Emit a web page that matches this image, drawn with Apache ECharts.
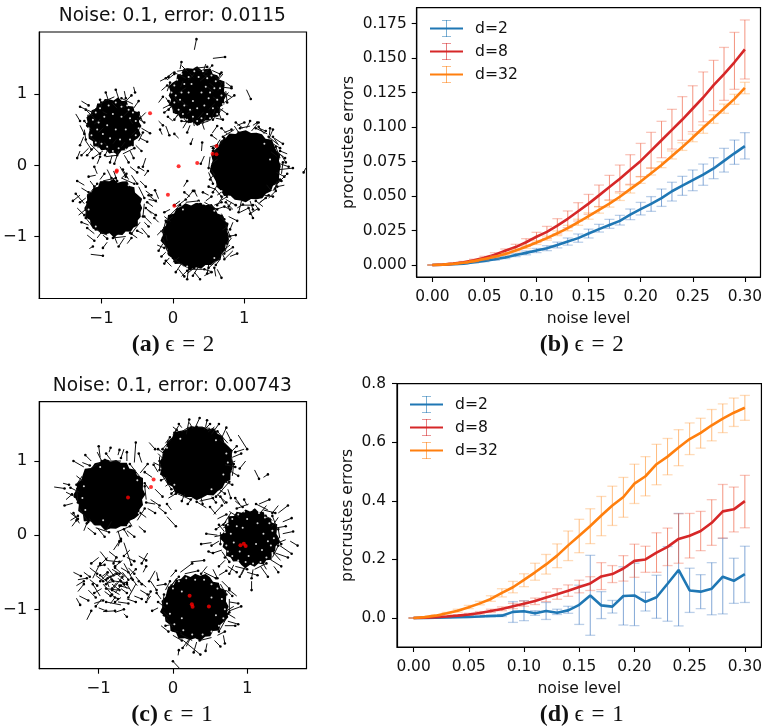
<!DOCTYPE html>
<html><head><meta charset="utf-8">
<style>html,body{margin:0;padding:0;background:#fff}#c{width:765px;height:727px;filter:blur(.35px)}</style>
<script src="https://cdn.jsdelivr.net/npm/echarts@6/dist/echarts.min.js"></script>
</head><body><div id="c"></div>
<script>
// ---------- values ----------
const noise=[0,.01,.02,.03,.04,.05,.06,.07,.08,.09,.1,.11,.12,.13,.14,.15,.16,.17,.18,.19,.2,.21,.22,.23,.24,.25,.26,.27,.28,.29,.3];
const names=['d=2','d=8','d=32'];
const xTicks=[0,.05,.1,.15,.2,.25,.3];
const yTicksB=[0,.025,.05,.075,.1,.125,.15,.175];
const yTicksD=[0,.2,.4,.6,.8];
const scatterTicks=[-1,0,1];

// panel b
const b2=[0,.0002,.0005,.001,.002,.003,.0042,.0055,.0072,.0088,.0105,.0122,.0145,.017,.0195,.0228,.026,.029,.032,.0365,.0405,.0443,.0485,.0535,.0575,.0615,.0655,.07,.0755,.081,.0862];
const b2Hi=[0,.0003,.0007,.0013,.0025,.0036,.005,.0064,.0083,.0102,.012,.014,.0166,.0196,.0225,.026,.0295,.0331,.036,.0406,.0454,.0496,.0551,.06,.0643,.0689,.0732,.0778,.0846,.0906,.096];
const b2Lo=[0,.0001,.0003,.0007,.0015,.0024,.0034,.0046,.0061,.0074,.009,.0104,.0124,.0144,.0165,.0196,.0239,.0266,.029,.0329,.0363,.0389,.0425,.0464,.0505,.0539,.0578,.0626,.0674,.073,.0769];
const b8=[0,.0003,.001,.002,.0034,.0052,.0075,.0103,.013,.0165,.0205,.024,.0285,.0335,.039,.0445,.0505,.0565,.0625,.069,.0755,.083,.0905,.098,.1055,.1135,.1215,.1305,.1385,.147,.1564];
const b8Hi=[0,.0005,.0013,.0026,.0042,.0063,.0089,.0116,.015,.0191,.0237,.028,.0336,.0392,.0452,.0512,.058,.065,.0725,.08,.0882,.0962,.1042,.1129,.1221,.13,.14,.1484,.1578,.1687,.1777];
const b8Lo=[0,.0002,.0007,.0014,.0026,.004,.0059,.008,.0106,.0135,.0164,.0193,.0225,.0271,.0319,.0367,.0423,.0471,.0532,.0585,.0641,.0701,.0778,.0841,.0904,.0967,.1039,.1119,.1194,.1274,.1349];
const b32=[0,.0003,.0008,.0016,.0028,.0043,.006,.008,.0105,.0132,.0163,.0195,.023,.0268,.031,.0355,.04,.0445,.0495,.055,.0605,.0665,.0725,.079,.0855,.0925,.0995,.1065,.1135,.1205,.1284];
const b32Hi=[0,.0004,.001,.002,.0033,.0049,.0068,.0089,.0115,.0144,.0177,.021,.0247,.0288,.0332,.0378,.0424,.047,.0522,.058,.0641,.0706,.0749,.0827,.0887,.095,.1015,.109,.1167,.1238,.1325];
const b32Lo=[0,.0002,.0006,.0012,.0023,.0037,.0052,.0071,.0095,.012,.0149,.018,.0213,.0248,.0288,.0332,.0376,.042,.0468,.0522,.0592,.0653,.0706,.0769,.0831,.0894,.0955,.1027,.11,.1165,.1242];

// panel d
const d2=[0,.0005,.001,.002,.003,.004,.005,.007,.008,.021,.023,.016,.024,.018,.026,.045,.077,.043,.039,.075,.077,.055,.071,.117,.164,.094,.09,.1,.141,.127,.15];
const d2Hi=[0,.001,.002,.003,.004,.006,.007,.01,.012,.056,.059,.025,.053,.03,.04,.112,.214,.09,.06,.175,.187,.088,.146,.244,.357,.17,.148,.189,.272,.204,.245];
const d2Lo=[0,0,0,.001,.002,.002,.003,.004,.005,-.015,-.009,.009,-.005,.012,.016,-.022,-.059,-.002,.017,-.024,-.026,.024,-.001,-.011,-.027,.019,.032,.011,.014,.05,.053];
const d8=[0,.001,.003,.005,.008,.012,.017,.024,.031,.04,.049,.058,.07,.081,.093,.106,.118,.142,.15,.169,.195,.2,.223,.243,.27,.281,.297,.325,.364,.371,.399];
const d8Hi=[0,.002,.004,.007,.011,.016,.022,.03,.038,.05,.058,.068,.088,.1,.113,.129,.141,.189,.179,.213,.252,.245,.291,.307,.356,.357,.364,.404,.456,.447,.487];
const d8Lo=[0,.001,.002,.004,.006,.009,.013,.019,.025,.032,.04,.046,.056,.064,.074,.086,.094,.097,.121,.126,.139,.156,.156,.179,.187,.205,.23,.248,.273,.294,.308];
const d32=[0,.003,.008,.016,.025,.037,.05,.065,.086,.105,.13,.156,.183,.213,.248,.281,.314,.35,.384,.413,.459,.484,.525,.551,.582,.611,.632,.658,.681,.701,.718];
const d32Hi=[0,.004,.01,.019,.03,.043,.057,.076,.1,.125,.151,.187,.217,.253,.297,.337,.373,.415,.45,.48,.525,.551,.593,.613,.643,.666,.682,.712,.731,.751,.76];
const d32Lo=[0,.002,.006,.013,.02,.032,.045,.057,.072,.086,.107,.129,.15,.172,.196,.223,.254,.281,.316,.344,.391,.417,.455,.489,.52,.558,.58,.605,.633,.654,.675];

// panel a: dense cluster bodies [x, y] with their outline radii, arrows [fromX, fromY, toX, toY], gaps inside bodies, red points
const centersA=[[1.02,-.01],[.32,-.98],[-.83,-.6],[-.83,.55],[.34,.98]];
const outlinesA=[
[.49,.47,.51,.48,.49,.52,.47,.5,.49,.47,.5,.49,.47,.51,.48,.5,.47,.49,.51,.47,.49,.51,.48,.47,.5,.49,.52,.47,.5,.49,.51,.47,.49,.51,.48,.5,.47,.52,.49,.48],
[.46,.44,.48,.45,.47,.43,.46,.49,.44,.46,.45,.42,.47,.45,.46,.43,.48,.45,.44,.48,.46,.5,.46,.44,.48,.46,.5,.45,.47,.49,.45,.48,.44,.47,.46,.49,.45,.46,.44,.47],
[.4,.38,.42,.39,.37,.41,.38,.42,.39,.36,.41,.38,.4,.42,.37,.4,.38,.42,.39,.38,.41,.39,.42,.37,.4,.41,.38,.4,.39,.36,.41,.38,.4,.37,.41,.39,.42,.38,.4,.38],
[.39,.36,.38,.41,.36,.39,.35,.4,.37,.41,.36,.38,.4,.36,.39,.35,.38,.36,.4,.37,.39,.34,.37,.39,.36,.4,.36,.38,.35,.39,.37,.41,.36,.38,.36,.4,.35,.38,.4,.36],
[.41,.38,.4,.43,.38,.4,.37,.42,.39,.36,.41,.38,.4,.42,.38,.4,.36,.39,.42,.38,.4,.37,.41,.39,.42,.38,.4,.36,.41,.38,.43,.39,.37,.4,.38,.42,.39,.36,.4,.38]];
const gapsA=[
[.02,1.12],[.06,1.2],[.12,1.28],[.16,1.14],[.22,1.24],[.3,1.32],[.36,1.24],[.42,1.32],[.48,1.22],[.54,1.26],[.6,1.18],[.66,1.08],[.58,1.08],[.68,.98],[.62,.92],[.7,.86],[.56,.8],[.62,.72],[.48,.72],[.52,.66],[.4,.66],[.34,.62],[.28,.68],[.2,.64],[.14,.72],[.08,.78],[.02,.88],[.04,.98],[-.02,1.02],[.12,1.02],[.16,.84],[.24,.78],[.44,.84],[.5,.94],[.46,1.1],[.26,1.14],[.1,.92],[.28,.9],[.4,1.02],[.34,.8],[.22,1.02],[.52,1.02],
[-1.12,.64],[-1.08,.74],[-1.02,.8],[-.96,.68],[-.9,.84],[-.8,.88],[-.72,.82],[-.64,.84],[-.56,.74],[-.52,.62],[-.6,.66],[-.48,.52],[-.52,.42],[-.6,.36],[-.58,.26],[-.66,.22],[-.76,.24],[-.84,.2],[-.92,.26],[-1,.3],[-1.08,.32],[-1.14,.42],[-1.18,.52],[-1.06,.5],[-.98,.44],[-.92,.56],[-.84,.72],[-.72,.68],[-.66,.5],[-.74,.36],[-.88,.38],[-.8,.5],[-1.04,.6],[-.62,.78],
[.36,-.52],[.42,-.54],[-.62,-.28],[-.5,-.3],[-.46,-.42],[.58,-.64],[1.36,.08],[.68,-.36],[.78,-.44],[1.28,.3],[-.42,-.78],[.14,-.62],[.2,-1.42],[.58,-1.3],[-1.18,-.62],[-1.08,-.86]];
const arrowsA=[
[.3,1.62,.33,1.77],[.56,1.5,.73,1.52],[1.03,1.06,1.09,.93],[.0,1.3,-.1,1.22],[.1,1.35,.12,1.45],[.18,1.22,.02,1.3],[.3,1.36,.48,1.38],[.42,1.27,.55,1.4],[.55,1.33,.66,1.28],[.62,1.2,.68,1.3],[.66,1.1,.82,1.08],[.7,1.18,.62,1.03],[.78,1.02,.7,.95],[.72,.88,.86,.98],[.62,.82,.76,.72],[.55,.68,.6,.8],[.42,.58,.46,.7],[.3,.55,.27,.68],[.18,.62,.12,.72],[.05,.68,.14,.78],[-.02,.82,-.12,.74],[-.1,.95,-.04,.85],[-.16,1.05,-.08,1.12],[-.18,1.18,-.06,1.24],[-.02,1.1,.06,1.18],
[.08,1.02,.2,1.1],[.12,.9,.22,.82],[.2,.72,.3,.8],[.35,.66,.44,.76],[.5,.78,.6,.88],[.56,.96,.66,.9],[.6,1.08,.5,1.16],[.5,1.22,.4,1.3],[.3,1.28,.2,1.18],[.14,1.18,.1,1.08],[.02,.96,.1,.86],[.0,.86,-.06,.78],[.48,1.1,.58,1.02],[.66,.78,.58,.7],[.1,.76,.02,.64],[.38,1.18,.5,1.28],[.22,1.3,.3,1.22],[.6,.66,.7,.64],[-.2,.88,-.14,.96],[.24,.56,.2,.46],[.44,.5,.4,.62],[.74,1.16,.82,1.1],
[-.08,1.2,.02,1.28],[.06,1.32,.2,1.34],[.34,1.34,.5,1.3],[.58,1.26,.7,1.12],[.74,1.04,.76,.88],[.7,.8,.56,.64],[.5,.62,.36,.58],[.26,.6,.12,.62],[.04,.72,-.06,.9],[-.08,1.04,-.04,1.16],[.12,1.4,.22,1.3],[.46,1.42,.42,1.3],[.7,1.28,.6,1.16],[.82,.96,.7,1.02],[.68,.64,.64,.74],[.14,.52,.2,.62],[-.14,.8,-.02,.86],
[-.1,.55,-.05,.42],[.08,.38,.02,.44],[.28,.38,.25,.3],[.4,.2,.41,.32],[.62,.36,.54,.42],[.44,.13,.39,.02],[.15,-.3,.2,-.22],[-.38,.1,-.42,-.02],[-.4,-.08,-.48,-.03],[-.2,-.47,-.25,-.35],[.55,.45,.62,.55],[-.2,.62,-.14,.56],[.0,.62,-.07,.68],[-.15,.43,-.18,.5],
[1.03,.52,1.08,.62],[.86,.55,.92,.46],[.76,.44,.68,.52],[1.2,.52,1.3,.48],[1.34,.36,1.4,.5],[1.4,.3,1.5,.24],[1.46,.12,1.36,.2],[1.5,.02,1.62,-.02],[1.45,-.1,1.56,-.16],[1.42,-.26,1.52,-.22],[1.38,-.36,1.3,-.26],[1.22,-.52,1.3,-.46],[1.08,-.5,1.12,-.62],[.96,-.5,.92,-.66],[.82,-.52,.78,-.58],[.7,-.44,.62,-.56],[.62,-.28,.56,-.38],[.58,-.12,.52,-.2],[.54,.02,.64,.1],[.6,.14,.56,.24],[.66,.3,.72,.38],[1.05,-.58,1.12,-.74],[.9,-.6,.98,-.55],[1.15,-.55,1.2,-.62],[1.28,-.42,1.4,-.44],[1.35,.42,1.36,.52],[1.44,.2,1.57,.1],[.72,-.58,.8,-.62],[.98,.52,.88,.6],[1.12,.56,1.18,.6],[1.5,-.06,1.68,-.04],[1.86,-.04,1.83,-.1],[1.46,-.22,1.43,-.33],[.62,-.42,.7,-.36],
[.9,.56,1.0,.6],[1.1,.48,1.2,.6],[1.28,.44,1.2,.54],[1.48,.28,1.4,.4],[1.52,.14,1.58,.04],[1.5,-.22,1.6,-.12],[1.34,-.46,1.44,-.36],[1.2,-.6,1.08,-.68],[.84,-.62,.74,-.52],[.6,-.34,.5,-.3],[.52,-.04,.6,-.16],[.56,.2,.66,.2],[.72,.46,.82,.5],[1.26,-.58,1.16,-.5],
[1.5,.1,1.44,.26],[1.46,.3,1.34,.4],[1.32,.44,1.16,.52],[1.08,.55,.94,.52],[.86,.5,.7,.4],[.66,.36,.56,.2],[.52,.12,.5,-.04],[.5,-.1,.56,-.26],[.58,-.32,.68,-.44],[.74,-.48,.88,-.56],[.96,-.56,1.12,-.56],[1.2,-.54,1.34,-.42],[1.4,-.36,1.5,-.2],[1.52,-.12,1.54,.04],[1.42,.38,1.54,.3],[1.6,.16,1.5,.2],[.94,-.66,1.06,-.6],[.66,-.5,.76,-.44],[.52,.26,.62,.28],[1.56,-.28,1.46,-.3],
[.0,-.72,-.09,-.8],[.05,-.58,.18,-.48],[.2,-.46,.28,-.36],[.34,-.44,.3,-.36],[.46,-.5,.54,-.44],[.58,-.56,.68,-.52],[.68,-.68,.72,-.76],[.76,-.86,.68,-.92],[.76,-1,.88,-.98],[.8,-1.12,.72,-1.18],[.74,-1.22,.84,-1.15],[.66,-1.32,.6,-1.4],[.62,-1.46,.68,-1.58],[.5,-1.4,.48,-1.52],[.36,-1.42,.28,-1.55],[.22,-1.44,.2,-1.6],[.12,-1.38,.04,-1.5],[.0,-1.36,.1,-1.28],[-.1,-1.22,-.16,-1.28],[-.14,-1.1,-.2,-1.2],[-.18,-.92,-.08,-.98],[-.2,-.8,-.26,-.74],[-.04,-.62,-.12,-.66],[.44,-1.55,.54,-1.5],[.72,-1.3,.66,-1.18],[.84,-.8,.8,-.9],[-.08,-1.06,-.1,-.96],[.1,-.5,.02,-.56],[.2,-1.52,.3,-1.44],[-.05,-1.3,-.12,-1.38],[.6,-.62,.72,-.58],
[.78,-.72,.9,-.78],[.82,-1.02,.76,-1.1],[.8,-1.28,.9,-1.24],[.56,-1.5,.44,-1.46],[.3,-1.5,.38,-1.6],[.08,-1.46,.16,-1.56],[-.1,-1.14,-.06,-1.24],[-.22,-.98,-.12,-.88],[-.12,-.72,-.02,-.8],[.24,-.44,.16,-.38],[.5,-.42,.42,-.38],[-.02,-1.42,-.1,-1.34],
[.74,-.84,.8,-1.0],[.78,-1.06,.72,-1.24],[.66,-1.3,.5,-1.44],[.42,-1.46,.24,-1.46],[.16,-1.42,.0,-1.3],[-.08,-1.2,-.14,-1.02],[-.14,-.94,-.1,-.78],[-.04,-.7,.1,-.56],[.18,-.52,.36,-.5],[.44,-.52,.62,-.62],[.66,-.72,.76,-.82],[.84,-1.2,.72,-1.32],[.6,-1.56,.58,-1.44],[.12,-1.56,.2,-1.48],[-.22,-1.12,-.12,-1.16],
[-.83,-.08,-.78,-.22],[-.72,-.18,-.65,-.12],[-.58,-.14,-.5,-.26],[-.46,-.22,-.38,-.3],[-.38,-.36,-.3,-.42],[-.34,-.48,-.24,-.5],[-.36,-.62,-.24,-.7],[-.4,-.8,-.34,-.86],[-.44,-.88,-.34,-1],[-.5,-1.02,-.6,-.95],[-.64,-1.1,-.58,-1.02],[-.78,-1.1,-.82,-1],[-.92,-1.08,-.98,-1.16],[-1.06,-1.02,-1.0,-.94],[-1.2,-.98,-1.1,-1.06],[-1.18,-.84,-1.28,-.8],[-1.32,-.7,-1.22,-.62],[-1.24,-.54,-1.36,-.4],[-1.28,-.32,-1.18,-.38],[-1.16,-.22,-1.1,-.3],[-1.02,-.2,-.96,-.12],[-.92,-.06,-.86,-.18],[-1.15,-1.25,-.98,-1.27],[-1.17,-1.17,-1.12,-1.14],[-.3,-.82,-.4,-.72],[-.28,-.58,-.36,-.52],[-1.06,-.12,-1.1,-.02],[-.62,-.2,-.7,-.06],[-.98,-.98,-.92,-1.03],[-1.3,-.42,-1.4,-.5],[-.22,-.52,-.34,-.42],[-.6,-.02,-.5,-.1],[-.4,-.15,-.35,-.08],
[-1.34,-.6,-1.24,-.7],[-1.22,-.46,-1.3,-.52],[-1.08,-.14,-1.18,-.16],[-.74,-.02,-.66,-.16],[-.3,-.68,-.38,-.6],[-.68,-1.02,-.76,-1.14],[-1.1,-.96,-1.2,-.88],[-.42,-.96,-.5,-.92],[-1.24,-.28,-1.34,-.22],
[-1.22,-.7,-1.2,-.52],[-1.2,-.44,-1.06,-.26],[-.98,-.22,-.8,-.18],[-.72,-.18,-.54,-.26],[-.48,-.3,-.4,-.46],[-.4,-.54,-.42,-.72],[-.46,-.8,-.58,-.96],[-.66,-1.0,-.84,-1.02],[-.92,-.98,-1.08,-.9],[-1.14,-.84,-1.22,-.74],
[-.76,.2,-.82,.02],[-.85,.14,-.88,.04],[-.98,.2,-1.12,.1],[-1.1,.26,-1.2,.14],[-1.22,.34,-1.14,.22],[-1.25,.4,-1.3,.28],[-1.14,.5,-1.24,.62],[-1.08,.64,-1.22,.78],[-1.12,.74,-1.3,.82],[-1.0,.82,-1.02,.92],[-.9,.9,-.94,1.02],[-.76,.94,-.8,1.06],[-.68,.88,-.58,.98],[-.55,.8,-.48,.9],[-.5,.66,-.4,.6],[-.44,.52,-.32,.45],[-.46,.38,-.36,.33],[-.52,.28,-.44,.2],[-.6,.2,-.55,.1],[-.68,.14,-.62,.04],[-.55,1.1,-.53,1.02],[-1.3,.2,-1.34,.1],[-1.36,.72,-1.3,.62],[-.9,.24,-.95,.14],[-1.16,.4,-1.06,.32],[-1.1,.58,-1.0,.66],[-.78,.8,-.86,.88],[-.62,.76,-.7,.68],[-.58,.42,-.5,.5],[-.72,.26,-.66,.34],[-.96,.32,-.88,.22],[-1.04,.46,-.96,.54],[-.92,.72,-1,.76],[-.74,.86,-.66,.8],[-.56,.58,-.62,.66],[-.84,.3,-.78,.38],[-1.05,.24,-1.02,.36],[-1.2,.7,-1.1,.72],[-1.18,.24,-1.28,.14],
[-1.24,.5,-1.22,.36],[-1.16,.3,-1.02,.16],[-.94,.12,-.78,.14],[-.7,.16,-.54,.24],[-.48,.34,-.42,.46],[-.42,.6,-.48,.74],[-.56,.86,-.72,.94],[-.82,.96,-1,.88],[-1.08,.8,-1.18,.68],[-1.3,.56,-1.24,.44],[-1.28,.9,-1.18,.84],[-.68,1.04,-.66,.94],[-.38,.74,-.46,.66],[-1.06,.02,-1.02,.12]];
const redA=[[-.32,.73],[.61,.27],[.555,.16],[.61,.155],[.08,-.015],[.34,.03],[-.785,-.075],[-.79,-.09],[-.07,-.415],[.02,-.57]];

// panel c
const centersC=[[.32,.98],[-.84,.55],[.3,-.96],[1.04,-.04]];
const outlinesC=[
[.49,.47,.51,.48,.46,.5,.48,.52,.47,.49,.48,.5,.46,.48,.51,.47,.49,.46,.48,.47,.5,.48,.52,.47,.49,.46,.5,.48,.49,.47,.51,.48,.46,.5,.48,.49,.47,.51,.48,.49],
[.47,.44,.46,.49,.44,.47,.43,.48,.45,.47,.44,.49,.46,.47,.44,.49,.46,.44,.48,.46,.5,.47,.45,.49,.46,.51,.45,.47,.44,.49,.46,.47,.45,.48,.44,.46,.47,.44,.46,.43],
[.45,.42,.44,.47,.42,.45,.41,.44,.46,.42,.44,.4,.45,.42,.44,.41,.45,.43,.42,.46,.44,.48,.43,.45,.42,.47,.44,.49,.45,.46,.43,.47,.43,.45,.41,.46,.42,.44,.47,.43],
[.39,.36,.38,.41,.36,.39,.35,.4,.37,.41,.36,.39,.36,.4,.37,.42,.36,.39,.35,.38,.41,.36,.39,.36,.4,.37,.39,.35,.38,.41,.36,.39,.36,.4,.37,.41,.36,.38,.36,.4]];
const gapsC=[
[.72,-.14],[.7,.04],[.74,.14],[.8,.22],[.88,.28],[.96,.32],[1.06,.34],[1.16,.3],[1.24,.24],[1.3,.16],[1.34,.06],[1.36,-.04],[1.32,-.14],[1.34,-.24],[1.26,-.3],[1.18,-.36],[1.08,-.38],[.98,-.36],[.88,-.34],[.8,-.28],[.74,-.22],[.82,-.1],[.86,.12],[1.0,.22],[1.14,.16],[1.22,.02],[1.2,-.2],[1.02,-.28],[.9,-.22],[.78,.02],[1.28,-.08],[.94,.1],[1.12,-.12],
[.0,-.72],[.08,-.62],[.18,-.58],[.3,-.6],[.42,-.6],[.52,-.66],[.6,-.72],[.66,-.86],[.7,-1.0],[.68,-1.12],[.62,-1.22],[.52,-1.3],[.4,-1.34],[.26,-1.34],[.14,-1.28],[.02,-1.2],[-.04,-1.06],[-.08,-.92],[.12,-.76],[.52,-.84],[.58,-1.08],[.12,-1.12],
[.72,1.1],[.68,.82],[.52,.62],[.02,.68],[-.08,1.18],[.1,1.3],[.58,1.28],[.74,.98],[-1.18,.34],[-1.2,.66],[-.46,.3],[-.48,.74],[-.98,.92],[-.66,.9],[-.6,.14],[-.94,.2],[-1.22,.5]];
const arrowsC=[
[.88,1.35,1.0,1.16],[.98,1.0,.9,.9],[1.1,.88,1.16,.76],[1.22,.78,1.28,.82],[.0,1.35,.05,1.42],[.12,1.45,.08,1.5],[.18,1.36,.22,1.56],[.3,1.45,.36,1.58],[.44,1.46,.46,1.55],[.52,1.36,.62,1.5],[.66,1.32,.72,1.45],[.72,1.22,.62,1.3],[.78,1.12,.86,1.2],[.84,1.0,.76,.96],[.78,.86,.88,.8],[.7,.72,.8,.68],[.62,.62,.7,.56],[.52,.52,.58,.44],[.38,.5,.4,.42],[.26,.5,.2,.42],[.16,.56,.12,.46],[.04,.62,-.02,.56],[-.08,.78,-.16,.74],[-.16,.9,-.18,1.0],[-.12,1.1,-.2,1.16],[-.1,1.24,-.04,1.32],[-.32,1.25,-.24,1.16],[-.2,1.1,-.12,1.02],[.6,.55,.72,.44],[.08,1.48,.02,1.38],[.56,1.46,.46,1.38],[.7,.95,.84,.92],[.42,1.42,.5,1.5],[.66,.6,.58,.52],[-.1,.66,-.02,.72],[.22,1.52,.28,1.42],[.8,1.05,.92,1.1],
[.8,.98,.78,1.14],[.74,1.24,.6,1.4],[.5,1.44,.32,1.46],[.22,1.46,.06,1.36],[-.02,1.3,-.14,1.16],[-.18,1.06,-.18,.88],[-.14,.8,-.02,.62],[.06,.56,.24,.48],[.36,.46,.54,.5],[.62,.56,.76,.72],[.8,.8,.82,.96],[.96,1.16,.84,1.12],[.72,1.4,.78,1.28],[.0,1.46,.1,1.38],[-.26,.98,-.14,.92],[-.06,.5,.04,.56],[.7,.42,.64,.52],
[-1.6,.65,-1.46,.63],[-1.48,.7,-1.4,.68],[-1.44,.48,-1.36,.55],[-1.35,.43,-1.46,.4],[-1.38,.3,-1.28,.22],[-1.38,.2,-1.28,.26],[-1.26,.16,-1.34,.3],[-1.15,.1,-1.05,.02],[-1.02,.1,-.92,-.02],[-.9,.06,-.82,.2],[-.74,.06,-.7,-.08],[-.62,.06,-.52,-.02],[-.46,.12,-.38,.05],[-.36,.24,-.44,.3],[-.34,.36,-.24,.3],[-.3,.48,-.18,.4],[-.32,.62,-.38,.7],[-.28,.78,-.38,.85],[-.44,.84,-.34,.96],[-.52,.98,-.5,1.25],[-.62,1.0,-.62,1.12],[-.74,1.08,-.72,1.15],[-.86,1.12,-.84,1.18],[-.98,1.05,-1,1.2],[-1.1,1.0,-1.18,1.08],[-1.2,.92,-1.34,1.0],[-1.3,.8,-1.2,.72],[-1.26,.58,-1.38,.64],[-1.06,.14,-1.14,.24],[-.55,.12,-.6,.2],[-.84,1.02,-.9,1.1],[-.42,.98,-.46,1.1],[-.24,.62,-.14,.52],[-.2,.85,-.26,.95],[-1.36,.12,-1.3,.2],[-1.22,.98,-1.12,.94],
[-1.3,.64,-1.28,.44],[-1.26,.36,-1.14,.18],[-1.04,.1,-.86,.04],[-.76,.04,-.58,.12],[-.48,.2,-.38,.36],[-.36,.48,-.38,.66],[-.44,.78,-.58,.96],[-.7,1.0,-.88,1.0],[-.98,.98,-1.14,.88],[-1.22,.8,-1.3,.68],[-1.44,.58,-1.32,.52],[-1.2,.06,-1.16,.16],[-.6,-.02,-.66,.08],[-.24,.42,-.36,.44],[-1.02,1.12,-.96,1.0],[-.66,1.16,-.7,1.04],
[-.2,.38,-.1,.3],[-.02,.34,-.08,.42],[-.08,.25,.04,.12],[.45,.37,.32,.45],[.74,.62,.78,.5],[.58,.28,.5,.38],[.6,.0,.45,.02],[.52,-.1,.38,-.12],[.55,-.25,.48,-.22],
[.55,.28,.66,.4],[.6,.22,.72,.28],[.72,.18,.58,.08],[.76,.32,.92,.22],[.9,.42,.84,.5],[1.0,.4,.96,.48],[1.16,.42,1.3,.48],[1.22,.34,1.38,.3],[1.42,.3,1.55,.4],[1.48,.18,1.6,.23],[1.4,.1,1.52,.12],[1.48,.02,1.62,.05],[1.4,-.02,1.46,-.12],[1.44,-.14,1.6,-.25],[1.38,-.24,1.55,-.3],[1.3,-.32,1.46,-.42],[1.36,-.42,1.42,-.5],[1.18,-.42,1.28,-.56],[1.08,-.46,1.06,-.58],[.96,-.44,.9,-.56],[.82,-.4,.76,-.52],[.7,-.34,.62,-.42],[.66,-.2,.54,-.24],[.62,-.08,.52,-.14],[.7,.04,.62,.14],[1.06,-.62,1.06,-.74],[1.34,.2,1.25,.26],[1.42,.24,1.32,.1],[.74,-.42,.86,-.5],[1.0,-.5,1.14,-.54],[1.26,-.46,1.2,-.36],[.68,.1,.78,.14],[1.26,.4,1.16,.28],[.78,-.22,.7,-.3],[1.58,-.08,1.68,-.14],[1.45,-.34,1.36,-.24],
[1.4,.1,1.34,.26],[1.28,.34,1.12,.42],[1.02,.42,.86,.36],[.78,.3,.68,.14],[.64,.04,.64,-.12],[.66,-.22,.76,-.36],[.84,-.42,1.0,-.46],[1.1,-.46,1.26,-.38],[1.34,-.3,1.42,-.14],[1.44,-.04,1.42,.08],[.84,.46,.94,.38],[1.42,.4,1.34,.3],[1.52,-.06,1.42,-.1],[.92,-.54,.98,-.42],[.56,-.02,.66,.0],
[.1,-.5,.26,-.38],[.24,-.36,.42,-.34],[.46,-.42,.38,-.52],[.54,-.46,.6,-.58],[.62,-.54,.72,-.48],[.66,-.62,.76,-.72],[.72,-.74,.8,-.82],[.76,-.9,.88,-.92],[.76,-1.02,.92,-.96],[.74,-1.16,.88,-1.2],[.7,-1.22,.84,-1.22],[.68,-1.35,.7,-1.46],[.56,-1.42,.64,-1.5],[.46,-1.46,.44,-1.56],[.32,-1.44,.28,-1.58],[.22,-1.4,.13,-1.52],[.12,-1.32,.0,-1.28],[.02,-1.2,-.1,-1.22],[-.06,-1.1,-.14,-1.02],[-.1,-.98,-.2,-.9],[-.16,-.86,-.22,-.78],[-.1,-.74,-.04,-.62],[-.03,-.56,.04,-.48],[.14,-1.42,.37,-1.61],[.14,-1.85,-.0,-1.7],[.07,-1.62,.08,-1.55],[-.16,-1.22,-.06,-1.3],[-.2,-.98,-.28,-1.02],[.0,-1.35,.12,-1.42],[.6,-1.35,.7,-1.3],[.82,-.96,.72,-1.02],[-.3,-.62,-.22,-.74],[-.35,-.87,-.3,-.76],[.05,-.58,-.02,-.68],
[.76,-.86,.76,-1.04],[.72,-1.12,.62,-1.3],[.52,-1.38,.36,-1.42],[.26,-1.42,.08,-1.32],[.0,-1.24,-.12,-1.08],[-.14,-.98,-.12,-.8],[-.06,-.72,.08,-.56],[.16,-.52,.34,-.48],[.42,-.5,.58,-.58],[.64,-.66,.72,-.8],[.86,-.82,.76,-.74],[.84,-1.12,.74,-1.06],[.18,-1.5,.24,-1.38],[-.22,-.68,-.1,-.66],
[-.74,-.15,-.7,-.05],[-.8,-.2,-.72,-.08],[-.66,-.1,-.56,-.4],[-.62,-.3,-.52,-.35],[-.46,-.28,-.36,-.34],[-.34,-.24,-.42,-.38],[-.86,-.22,-.76,-.3],[-.98,-.22,-.9,-.32],[-1.0,-.3,-1.1,-.38],[-1.02,-.42,-.92,-.4],[-1.12,-.44,-1.02,-.52],[-1.34,-.5,-1.24,-.55],[-1.28,-.6,-1.16,-.58],[-1.3,-.68,-1.2,-.62],[-1.28,-.76,-1.2,-.66],[-1.12,-.6,-1.02,-.68],[-1.04,-.54,-.94,-.62],[-.96,-.72,-1.06,-.78],[-1.14,-.74,-1.04,-.84],[-1.26,-.82,-1.14,-.88],[-1.06,-.92,-.94,-.88],[-1.0,-.98,-.9,-1.02],[-.94,-1.03,-.78,-1.02],[-.78,-1.04,-.66,-1.0],[-.74,-.9,-.6,-.92],[-.62,-.86,-.5,-.9],[-.52,-.82,-.42,-.86],[-.44,-.74,-.34,-.8],[-.36,-.7,-.46,-.62],[-.48,-.68,-.56,-.58],[-.58,-.54,-.5,-.46],[-.4,-.5,-.36,-.42],[-.7,-.44,-.6,-.5],[-.82,-.46,-.72,-.52],[-.9,-.52,-.82,-.6],[-.74,-.58,-.66,-.66],[-.82,-.66,-.72,-.74],[-.66,-.6,-.76,-.52],[-.86,-.7,-.9,-.6],[-.92,-.76,-.84,-.82],[-.78,-.78,-.7,-.68],[-.72,-.8,-.82,-.74],[-.62,-.72,-.7,-.62],[-.56,-.76,-.62,-.66],[-1.16,-1.14,-1.1,-1.02],[-.66,-1.06,-.62,-1.1],[-1.3,-.85,-1.25,-.94],[-.96,-.86,-1.04,-.96],[-.84,-.92,-.78,-.84],[-.3,-.82,-.36,-.9],[-.76,-.28,-.8,-.38],[-.88,-.3,-.98,-.4],[-.58,-.2,-.66,-.28],[-.5,-.56,-.42,-.66],[-.9,-.62,-.98,-.54],[-.6,-.44,-.52,-.52],[-.68,-.34,-.78,-.42],[-1.2,-.5,-1.12,-.56],[-.24,-.48,-.32,-.62],[-.22,-.5,-.2,-.6],
[-.82,-.58,-.9,-.66],[-.76,-.64,-.82,-.72],[-.7,-.72,-.62,-.78],[-.88,-.44,-.8,-.54],[-.96,-.56,-.88,-.5],[-.68,-.5,-.6,-.6],[-.84,-.8,-.74,-.86],[-.92,-.66,-.8,-.62],[-.76,-.5,-.84,-.56],[-.7,-.84,-.78,-.9],
[-.9,-.34,-.72,-.36],[-.66,-.38,-.54,-.6],[-.5,-.66,-.6,-.84],[-.7,-.94,-.9,-.9],[-.98,-.82,-1.08,-.66],[-1.08,-.58,-.98,-.38],[-.78,-.62,-.62,-.64],[-.74,-.74,-.9,-.72],[-.86,-.5,-.98,-.62],[-.64,-.56,-.78,-.44],[-.8,-.72,-.68,-.56],[-.94,-.66,-.82,-.8],[-.58,-.72,-.72,-.68],[-.74,-.52,-.88,-.58]];
const redC=[[-.605,.51],[-.26,.75],[-.295,.65],[.91,-.135],[.955,-.115],[.98,-.145],[.225,-.815],[.255,-.93],[.265,-.965],[.485,-.96]];

// ---------- drawing ----------
const FONT='DejaVu Sans';
const BLUE='#1f77b4',RED='#d62728',ORANGE='#ff7f0e';
const BAR={[BLUE]:'#3f78c0',[RED]:'#ee5a3c',[ORANGE]:'#ff9a3c'};
const grids=[
 {left:39,top:32,width:267.5,height:266.5},
 {left:416.7,top:7.7,width:345.6,height:269.3},
 {left:39,top:401.7,width:267.5,height:267},
 {left:397,top:383.7,width:365.3,height:263.3}
].map(g=>({...g,show:true,borderColor:'#000',borderWidth:1.2,backgroundColor:'transparent',containLabel:false}));

function minusFmt(v){return String(v).replace('-','\u2212');}
function axisBase(extra){
 return Object.assign({type:'value',splitLine:{show:false},axisLine:{show:true,onZero:false,lineStyle:{color:'#000',width:1.2}},
  nameTextStyle:{fontFamily:FONT,fontSize:15.6,color:'#111'}},extra);
}
function ticks(vals,fmt,size,margin){
 return {axisTick:{show:true,length:5,customValues:vals,lineStyle:{color:'#000',width:1.1}},
  axisLabel:{customValues:vals,formatter:fmt,fontFamily:FONT,fontSize:size,color:'#111',margin,showMinLabel:true,showMaxLabel:true}};
}
const xAxis=[
 axisBase({gridIndex:0,min:-1.87,max:1.87,...ticks(scatterTicks,minusFmt,16.5,12)}),
 axisBase({gridIndex:1,min:-.015,max:.315,name:'noise level',nameLocation:'middle',nameGap:34,...ticks(xTicks,v=>v.toFixed(2),15.4,12)}),
 axisBase({gridIndex:2,min:-1.8,max:1.8,...ticks(scatterTicks,minusFmt,16.5,12)}),
 axisBase({gridIndex:3,min:-.015,max:.315,name:'noise level',nameLocation:'middle',nameGap:34,...ticks(xTicks,v=>v.toFixed(2),15.4,12)})
];
const yAxis=[
 axisBase({gridIndex:0,min:-1.87,max:1.87,...ticks(scatterTicks,minusFmt,16.5,12)}),
 axisBase({gridIndex:1,min:-.0087,max:.1866,name:'procrustes errors',nameLocation:'middle',nameGap:60,...ticks(yTicksB,v=>v.toFixed(3),15.4,10)}),
 axisBase({gridIndex:2,min:-1.8,max:1.8,...ticks(scatterTicks,minusFmt,16.5,12)}),
 axisBase({gridIndex:3,min:-.099,max:.8,name:'procrustes errors',nameLocation:'middle',nameGap:41,...ticks(yTicksD,v=>v.toFixed(1),15.4,11)})
];

function bodySeries(centers,outlines,i){return {type:'custom',xAxisIndex:i,yAxisIndex:i,coordinateSystem:'cartesian2d',clip:true,silent:true,z:2,data:centers,
 renderItem(p,api){const cx=api.value(0),cy=api.value(1);const radii=outlines[p.dataIndex];
  const points=radii.map((r,k)=>{const t=2*Math.PI*k/radii.length;return api.coord([cx+r*Math.cos(t),cy+r*Math.sin(t)]);});
  return {type:'polygon',shape:{points},style:{fill:'#000'}};}};}
function gapSeries(data,i){return {type:'scatter',xAxisIndex:i,yAxisIndex:i,data,symbolSize:2,itemStyle:{color:'#fff',opacity:.85},silent:true,z:3.5};}
function arrowSeries(data,i){return {type:'custom',xAxisIndex:i,yAxisIndex:i,coordinateSystem:'cartesian2d',clip:true,silent:true,z:3,data,
 renderItem(p,api){const a=api.coord([api.value(0),api.value(1)]),b=api.coord([api.value(2),api.value(3)]);
  return {type:'group',children:[
   {type:'line',shape:{x1:a[0],y1:a[1],x2:b[0],y2:b[1]},style:{stroke:'#111',lineWidth:1}},
   {type:'circle',shape:{cx:b[0],cy:b[1],r:1.3},style:{fill:'#000'}}]};}};}
function redSeries(data,i){return {type:'scatter',xAxisIndex:i,yAxisIndex:i,data,symbolSize:4,itemStyle:{color:'#f00'},silent:true,z:5};}
function errSeries(lo,hi,color,i,z){
 const data=noise.map((x,k)=>[x,lo[k],hi[k]]);
 const bar=BAR[color];
 return {type:'custom',xAxisIndex:i,yAxisIndex:i,coordinateSystem:'cartesian2d',silent:true,z,data,encode:{x:0,y:[1,2]},
  renderItem(p,api){const a=api.coord([api.value(0),api.value(1)]),b=api.coord([api.value(0),api.value(2)]);const w=5;
   return {type:'group',children:[
    {type:'line',shape:{x1:a[0],y1:a[1],x2:b[0],y2:b[1]},style:{stroke:bar,lineWidth:1,opacity:.65}},
    {type:'line',shape:{x1:a[0]-w,y1:a[1],x2:a[0]+w,y2:a[1]},style:{stroke:bar,lineWidth:1.3,opacity:.35}},
    {type:'line',shape:{x1:b[0]-w,y1:b[1],x2:b[0]+w,y2:b[1]},style:{stroke:bar,lineWidth:1.3,opacity:.35}}]};}};
}
function lineSeries(vals,color,name,i,z){return {type:'line',name,xAxisIndex:i,yAxisIndex:i,data:noise.map((x,k)=>[x,vals[k]]),showSymbol:false,
 lineStyle:{color,width:2.6},itemStyle:{color},silent:true,z};}

const panelB=[[b2,b2Lo,b2Hi,BLUE],[b8,b8Lo,b8Hi,RED],[b32,b32Lo,b32Hi,ORANGE]];
const panelD=[[d2,d2Lo,d2Hi,BLUE],[d8,d8Lo,d8Hi,RED],[d32,d32Lo,d32Hi,ORANGE]];
const series=[bodySeries(centersA,outlinesA,0),gapSeries(gapsA,0),arrowSeries(arrowsA,0),redSeries(redA,0),
 bodySeries(centersC,outlinesC,2),gapSeries(gapsC,2),arrowSeries(arrowsC,2),redSeries(redC,2)];
[[panelB,1],[panelD,3]].forEach(([panel,i])=>panel.forEach((s,k)=>{
 series.push(errSeries(s[1],s[2],s[3],i,4+2*k));
 series.push(lineSeries(s[0],s[3],names[k],i,5+2*k));
}));

const ICON='path://M0 7.4H33V9.6H0Z M16.2 0H16.8V17H16.2Z M12 0H21V.5H12Z M12 16.5H21V17H12Z';
function legend(left,top){return {left,top,orient:'vertical',data:names,icon:ICON,itemWidth:33,itemHeight:17,itemGap:6,selectedMode:false,
 textStyle:{fontFamily:FONT,fontSize:15.6,color:'#111',padding:[0,0,0,7]},padding:0};}

const cap=(t,x,y)=>({text:t,left:x,top:y,textAlign:'center',textVerticalAlign:'middle',padding:0,
 textStyle:{fontFamily:'Liberation Serif',fontSize:22,color:'#111',fontWeight:'normal',rich:{
  b:{fontFamily:'Liberation Serif',fontWeight:'bold',fontSize:24,color:'#111'},
  m:{fontFamily:'Liberation Serif',fontSize:23,color:'#111'}}}});
const ttl=(t,x,y)=>({text:t,left:x,top:y,textAlign:'center',textVerticalAlign:'middle',padding:0,
 textStyle:{fontFamily:FONT,fontSize:18.6,color:'#111',fontWeight:'normal'}});

const chart=echarts.init(document.getElementById('c'),null,{renderer:'canvas'});
chart.setOption({animation:false,backgroundColor:'#fff',grid:grids,xAxis,yAxis,series,
 legend:[legend(430,20),legend(410,396)],
 title:[ttl('Noise: 0.1, error: 0.0115',172.3,16),ttl('Noise: 0.1, error: 0.00743',172.3,386),
  cap('{b|(a)} {m|\u03f5\u2004=\u20042}',173,345),cap('{b|(b)} {m|\u03f5\u2004=\u20042}',581.7,345),
  cap('{b|(c)} {m|\u03f5\u2004=\u20041}',172,715),cap('{b|(d)} {m|\u03f5\u2004=\u20041}',581.7,715)]});
</script></body></html>
